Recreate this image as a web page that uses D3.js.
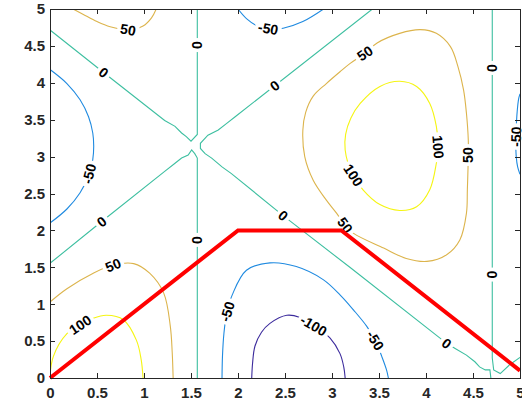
<!DOCTYPE html>
<html>
<head>
<meta charset="utf-8">
<script src="https://cdn.jsdelivr.net/npm/d3@7"></script>
<style>
  body { margin: 0; background: #fff; }
  text { font-family: "Liberation Sans", Arial, sans-serif; font-weight: bold; }
</style>
</head>
<body>
<div id="chart"></div>
<script>
// ---- data (data units) ----
var xTicks = [0, 0.5, 1, 1.5, 2, 2.5, 3, 3.5, 4, 4.5, 5];
var yTicks = [0, 0.5, 1, 1.5, 2, 2.5, 3, 3.5, 4, 4.5, 5];
var levels = [-100, -50, 0, 50, 100];

// level 0
var zeroUpperLeft = [[0, 4.715], [0.57, 4.14], [1.22, 3.49], [1.33, 3.41], [1.40, 3.32], [1.45, 3.27],
  [1.50, 3.21], [1.567, 3.30], [1.567, 4.0], [1.567, 5]];
var zeroCross = [[3.43, 5], [1.97, 3.54], [1.88, 3.45], [1.79, 3.36], [1.68, 3.29], [1.60, 3.18],
  [1.60, 3.11], [1.65, 3.04], [1.72, 2.98], [1.83, 2.86], [1.93, 2.77], [2.48, 2.20], [3.19, 1.50],
  [4.22, 0.47], [4.31, 0.40], [4.43, 0.31], [4.52, 0.22], [4.57, 0.15], [4.63, 0.11], [4.68, 0.11], [4.69, 0]];
var zeroLowerLeft = [[0, 1.554], [0.55, 2.12], [1.22, 2.80], [1.33, 2.91], [1.40, 2.98], [1.47, 3.02],
  [1.507, 3.09], [1.54, 3.04], [1.567, 2.98], [1.567, 1.87], [1.567, 0]];
var zeroRight = [[4.705, 5], [4.705, 1.4], [4.705, 0.27], [4.72, 0.11], [4.79, 0.06], [4.89, 0.18], [5, 0.28]];

// level -50
var m50Left = [[0, 4.18], [0.18, 3.99], [0.32, 3.77], [0.41, 3.54], [0.455, 3.32], [0.465, 3.14],
  [0.455, 2.96], [0.41, 2.74], [0.32, 2.51], [0.18, 2.29], [0, 2.10]];
var m50Top = [[2.0, 5], [2.09, 4.87], [2.22, 4.76], [2.35, 4.73], [2.48, 4.74], [2.69, 4.83], [2.91, 5]];
var m50Right = [[5, 3.85], [4.985, 3.78], [4.97, 3.61], [4.96, 3.4], [4.955, 3.2], [4.96, 3.0],
  [4.975, 2.86], [5, 2.76]];
var m50Bottom = [[1.83, 0], [1.835, 0.3], [1.85, 0.6], [1.88, 0.88], [1.94, 1.13], [2.09, 1.46],
  [2.34, 1.56], [2.62, 1.51], [2.91, 1.33], [3.09, 1.12], [3.23, 0.92], [3.37, 0.70], [3.46, 0.51],
  [3.53, 0.29], [3.58, 0.11], [3.6, 0]];

// level -100
var m100Bottom = [[2.146, 0], [2.155, 0.2], [2.18, 0.43], [2.25, 0.62], [2.34, 0.74], [2.52, 0.85],
  [2.66, 0.82], [2.82, 0.70], [2.98, 0.54], [3.085, 0.33], [3.125, 0.15], [3.14, 0]];

// level 50
var p50TopLeft = [[0.245, 5], [0.35, 4.93], [0.5, 4.83], [0.64, 4.76], [0.83, 4.72], [0.99, 4.77],
  [1.08, 4.88], [1.13, 5]];
var p50Loop = [[3.14, 2.07], [3.05, 2.23], [2.94, 2.41], [2.80, 2.68], [2.71, 3.0], [2.69, 3.36],
  [2.72, 3.6], [2.80, 3.82], [2.94, 3.99], [3.085, 4.15], [3.19, 4.26], [3.35, 4.40], [3.48, 4.54],
  [3.72, 4.67], [3.94, 4.72], [4.11, 4.67], [4.26, 4.49], [4.34, 4.22], [4.40, 3.90], [4.43, 3.59],
  [4.45, 3.22], [4.45, 3.02], [4.44, 2.55], [4.43, 2.23], [4.36, 1.87], [4.22, 1.67], [4.01, 1.58],
  [3.79, 1.62], [3.55, 1.76], [3.23, 1.96]];
var p50BottomLeft = [[0, 1.03], [0.18, 1.21], [0.46, 1.42], [0.67, 1.53], [0.89, 1.55], [1.06, 1.42],
  [1.21, 1.15], [1.28, 0.70], [1.30, 0.35], [1.31, 0]];

// level 100
var p100BottomLeft = [[0, 0.02], [0.035, 0.29], [0.18, 0.60], [0.32, 0.72], [0.46, 0.81], [0.60, 0.85],
  [0.78, 0.79], [0.92, 0.51], [0.97, 0.25], [0.99, 0]];
var p100Loop = [[3.14, 3.09], [3.145, 3.3], [3.2, 3.52], [3.30, 3.72], [3.51, 3.95], [3.72, 4.02],
  [3.90, 3.95], [4.04, 3.72], [4.11, 3.41], [4.13, 3.13], [4.11, 2.91], [4.04, 2.55], [3.90, 2.32],
  [3.72, 2.27], [3.51, 2.35], [3.33, 2.55], [3.21, 2.78]];

// red path
var pathX = [0, 2, 3.1, 5];
var pathY = [0, 2, 2, 0.1];

// contour pieces with label anchors
var contours = [
  { level: 0, pts: zeroUpperLeft, labels: [[0.57, 4.14], [1.567, 4.51]] },
  { level: 0, pts: zeroCross, labels: [[2.39, 3.96], [2.48, 2.20], [4.22, 0.47]] },
  { level: 0, pts: zeroLowerLeft, labels: [[0.55, 2.12], [1.567, 1.87]] },
  { level: 0, pts: zeroRight, labels: [[4.705, 4.20], [4.705, 1.40]] },
  { level: -50, pts: m50Left, labels: [[0.41, 2.77]] },
  { level: -50, pts: m50Top, labels: [[2.32, 4.73]] },
  { level: -50, pts: m50Right, labels: [[4.955, 3.27]] },
  { level: -50, pts: m50Bottom, labels: [[1.89, 0.90], [3.46, 0.51]] },
  { level: -100, pts: m100Bottom, labels: [[2.80, 0.70]] },
  { level: 50, pts: p50TopLeft, labels: [[0.83, 4.72]] },
  { level: 50, pts: p50Loop, closed: true, labels: [[3.35, 4.40], [4.45, 3.02], [3.14, 2.07]] },
  { level: 50, pts: p50BottomLeft, labels: [[0.67, 1.53]] },
  { level: 100, pts: p100BottomLeft, labels: [[0.32, 0.72]] },
  { level: 100, pts: p100Loop, closed: true, labels: [[4.13, 3.13], [3.23, 2.75]] }
];

// ---- drawing ----
var W = 522, H = 403;
var plotL = 50, plotR = 520, plotT = 9, plotB = 378;

var x = d3.scaleLinear().domain([0, 5]).range([plotL, plotR]);
var y = d3.scaleLinear().domain([0, 5]).range([plotB, plotT]);

// parula at the five levels
var color = d3.scaleOrdinal()
  .domain(levels)
  .range(["#3b2a9c", "#1f8ae0", "#3dbfa0", "#dcb44c", "#f5f512"]);

var svg = d3.select("#chart").append("svg")
  .attr("width", W).attr("height", H)
  .style("background", "#fff");

svg.append("defs").append("clipPath").attr("id", "plotClip")
  .append("rect")
  .attr("x", plotL).attr("y", plotT)
  .attr("width", plotR - plotL).attr("height", plotB - plotT);

var plot = svg.append("g").attr("clip-path", "url(#plotClip)");

var lineOpen = d3.line()
  .x(function (d) { return x(d[0]); })
  .y(function (d) { return y(d[1]); })
  .curve(d3.curveCatmullRom.alpha(0.5));
var lineClosed = d3.line()
  .x(function (d) { return x(d[0]); })
  .y(function (d) { return y(d[1]); })
  .curve(d3.curveCatmullRomClosed.alpha(0.5));
var lineStraight = d3.line()
  .x(function (d) { return x(d[0]); })
  .y(function (d) { return y(d[1]); });

plot.selectAll(".contour")
  .data(contours)
  .join("path")
  .attr("class", "contour")
  .attr("d", function (c) {
    if (c.closed) return lineClosed(c.pts);
    return c.level === 0 ? lineStraight(c.pts) : lineOpen(c.pts);
  })
  .attr("fill", "none")
  .attr("stroke", function (c) { return color(c.level); })
  .attr("stroke-width", 1.1);

// label placement: snap to nearest segment, rotate along it
function placeLabel(c, p) {
  var pts = c.pts.map(function (d) { return [x(d[0]), y(d[1])]; });
  if (c.closed) pts.push(pts[0]);
  var px = x(p[0]), py = y(p[1]);
  var best = { d: Infinity };
  for (var i = 0; i < pts.length - 1; i++) {
    var a = pts[i], b = pts[i + 1];
    var vx = b[0] - a[0], vy = b[1] - a[1];
    var len2 = vx * vx + vy * vy || 1;
    var t = Math.max(0, Math.min(1, ((px - a[0]) * vx + (py - a[1]) * vy) / len2));
    var qx = a[0] + t * vx, qy = a[1] + t * vy;
    var dd = (qx - px) * (qx - px) + (qy - py) * (qy - py);
    if (dd < best.d) best = { d: dd, x: qx, y: qy, ang: Math.atan2(vy, vx) * 180 / Math.PI };
  }
  var ang = best.ang;
  if (ang >= 90) ang -= 180;
  if (ang < -90) ang += 180;
  return { x: best.x, y: best.y, ang: ang, text: String(c.level) };
}

var labelData = [];
contours.forEach(function (c) {
  c.labels.forEach(function (p) { labelData.push(placeLabel(c, p)); });
});

var labels = svg.append("g").selectAll("g")
  .data(labelData)
  .join("g")
  .attr("transform", function (d) {
    return "translate(" + d.x + "," + d.y + ") rotate(" + d.ang + ")";
  });

labels.append("text")
  .attr("text-anchor", "middle")
  .attr("dy", "0.36em")
  .attr("font-size", 14)
  .attr("fill", "#000")
  .text(function (d) { return d.text; });

labels.each(function () {
  var g = d3.select(this);
  var bb = g.select("text").node().getBBox();
  g.insert("rect", "text")
    .attr("x", bb.x - 3).attr("y", bb.y + 1)
    .attr("width", bb.width + 6).attr("height", bb.height - 2)
    .attr("fill", "#fff");
});

// red path
var redPts = pathX.map(function (v, i) { return [v, pathY[i]]; });
svg.append("path")
  .attr("d", lineStraight(redPts))
  .attr("fill", "none")
  .attr("stroke", "#ff0000")
  .attr("stroke-width", 4)
  .attr("stroke-linejoin", "miter");

// axes
var fmt = d3.format("~g");
function styleAxis(g) {
  g.select(".domain").remove();
  g.selectAll("line").attr("stroke", "#262626").attr("shape-rendering", "crispEdges");
  g.selectAll("text").attr("fill", "#262626").attr("font-size", 15).attr("font-weight", "bold");
}

svg.append("g").attr("transform", "translate(0," + plotB + ")")
  .call(d3.axisBottom(x).tickValues(xTicks).tickSize(-5).tickSizeOuter(0).tickPadding(9).tickFormat(fmt))
  .call(styleAxis);
svg.append("g").attr("transform", "translate(" + plotL + ",0)")
  .call(d3.axisLeft(y).tickValues(yTicks).tickSize(-5).tickSizeOuter(0).tickPadding(5).tickFormat(fmt))
  .call(styleAxis);
svg.append("g").attr("transform", "translate(0," + plotT + ")")
  .call(d3.axisTop(x).tickValues(xTicks).tickSize(-5).tickSizeOuter(0).tickFormat(""))
  .call(styleAxis);
svg.append("g").attr("transform", "translate(" + plotR + ",0)")
  .call(d3.axisRight(y).tickValues(yTicks).tickSize(-5).tickSizeOuter(0).tickFormat(""))
  .call(styleAxis);

svg.append("rect")
  .attr("x", plotL).attr("y", plotT)
  .attr("width", plotR - plotL).attr("height", plotB - plotT)
  .attr("fill", "none")
  .attr("stroke", "#262626")
  .attr("stroke-width", 1)
  .attr("shape-rendering", "crispEdges");
</script>
</body>
</html>
